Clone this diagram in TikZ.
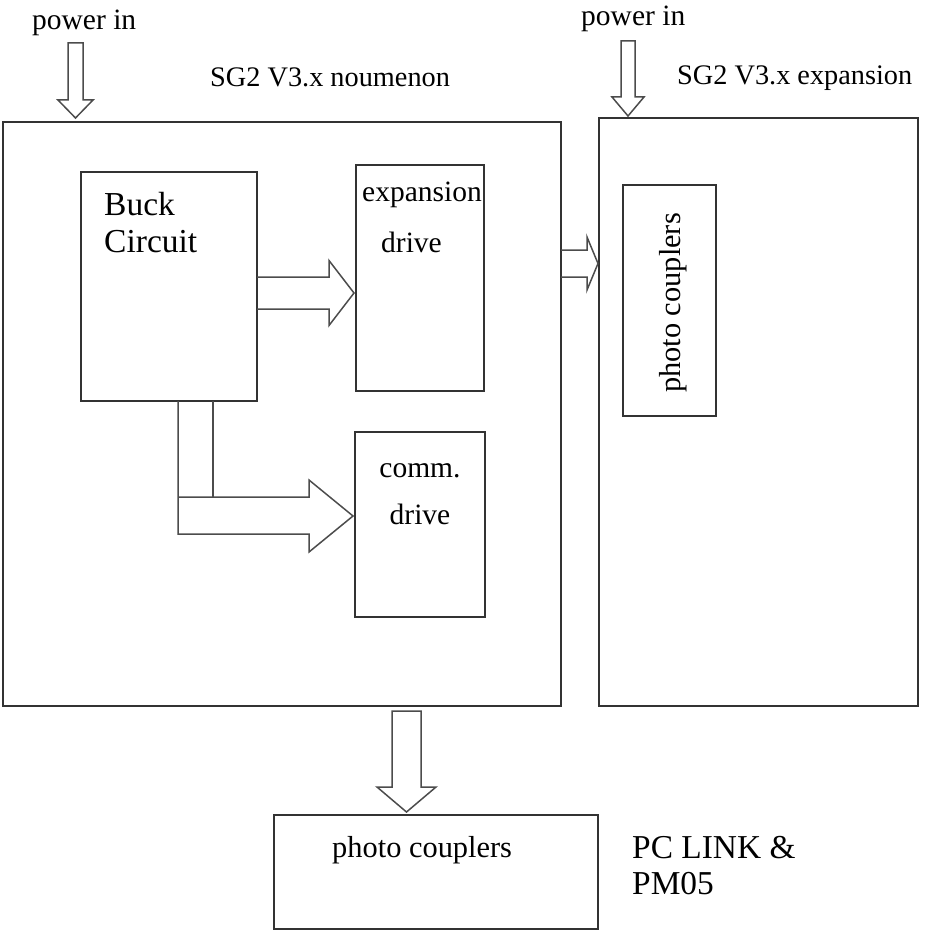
\documentclass[tikz,border=0pt]{standalone}
\usepackage{fontspec}
\setmainfont{Liberation Serif}
\usetikzlibrary{positioning}

\begin{document}
\begin{tikzpicture}[x=1pt, y=1pt,
  every node/.style={font=\fontsize{29.5}{36}\selectfont, inner sep=0pt},
  box/.style={draw=black!80, line width=1.5pt, outer sep=0pt},
  fat/.style={draw=black!70, line width=1.5pt}]

\useasboundingbox (0,0) rectangle (927,-931);

\node[box, minimum width=558pt, minimum height=584pt, anchor=north west] (noumenon) at (3,-122) {};
\node[box, minimum width=319pt, minimum height=588pt, right=38pt of noumenon.north east, anchor=north west, yshift=4pt] (expansion) {};

\node[box, minimum width=176pt, minimum height=229pt, below right=50pt and 78pt of noumenon.north west] (buck) {};
\node[box, minimum width=128pt, minimum height=226pt, below right=43pt and 353pt of noumenon.north west] (expdrive) {};
\node[box, minimum width=130pt, minimum height=185pt, below right=310pt and 352pt of noumenon.north west] (commdrive) {};
\node[box, minimum width=93pt, minimum height=231pt, below right=67pt and 24pt of expansion.north west] (optoexp) {};
\node[box, minimum width=324pt, minimum height=114pt, below right=109pt and 271pt of noumenon.south west] (optopc) {};

\node[anchor=base west] (powerL) at (32,-30) {power in};
\node[anchor=base west] (powerR) at (581,-26) {power in};
\node[anchor=base west, font=\fontsize{28.3}{34}\selectfont] (noutitle) at (210,-87) {SG2 V3.x noumenon};
\node[anchor=base west, font=\fontsize{28.3}{34}\selectfont] (exptitle) at (677,-85) {SG2 V3.x expansion};

\node[align=left, font=\fontsize{33.5}{37}\selectfont, below right=20pt and 23pt of buck.north west] (bucktext) {Buck\\Circuit};
\node[align=left, below right=17pt and 6pt of expdrive.north west] (exptext) {expansion\\[15pt]\hspace*{19pt}drive};
\node[align=center, below=31.6pt of commdrive.north] (commtext) {comm.\\[11pt]drive};
\node[rotate=90, font=\fontsize{30.4}{36}\selectfont, xshift=-2.5pt, yshift=-3.5pt] (optoexptext) at (optoexp.center) {photo couplers};
\node[font=\fontsize{30.4}{36}\selectfont, below right=21pt and 58pt of optopc.north west] (optopctext) {photo couplers};
\node[align=left, font=\fontsize{33.4}{36}\selectfont, below right=21pt and 34pt of optopc.north east] (pctext) {PC LINK \&\\PM05};

\draw[fat] ([xshift=72.5pt, yshift=4pt]noumenon.north west) -- ++(17.5,18) -- ++(-10,0) -- ++(0,57) -- ++(-15,0) -- ++(0,-57) -- ++(-10,0) -- cycle;
\draw[fat] ([xshift=29pt, yshift=2pt]expansion.north west) -- ++(16,19) -- ++(-9,0) -- ++(0,56) -- ++(-14,0) -- ++(0,-56) -- ++(-9,0) -- cycle;
\draw[fat] ([yshift=9.5pt]buck.east) -- ++(72,0) -- ++(0,16.5) -- ++(25,-32.5) -- ++(-25,-32.5) -- ++(0,16.5) -- ++(-72,0);
\draw[fat] ([yshift=164pt]noumenon.east) -- ++(26,0) -- ++(0,13) -- ++(11,-26.5) -- ++(-11,-26.5) -- ++(0,13) -- ++(-26,0);
\draw[fat] ([xshift=97pt]buck.south west) -- ++(0,-133) -- ++(131,0) -- ++(0,-18) -- ++(44,36) -- ++(-44,36) -- ++(0,-17) -- ++(-131,0);
\draw[fat] ([xshift=132pt]buck.south west) -- ++(0,-96);
\draw[fat] ([xshift=-29.5pt, yshift=3pt]optopc.north) -- ++(29.5,25) -- ++(-15,0) -- ++(0,76) -- ++(-29,0) -- ++(0,-76) -- ++(-15,0) -- cycle;

\end{tikzpicture}
\end{document}
